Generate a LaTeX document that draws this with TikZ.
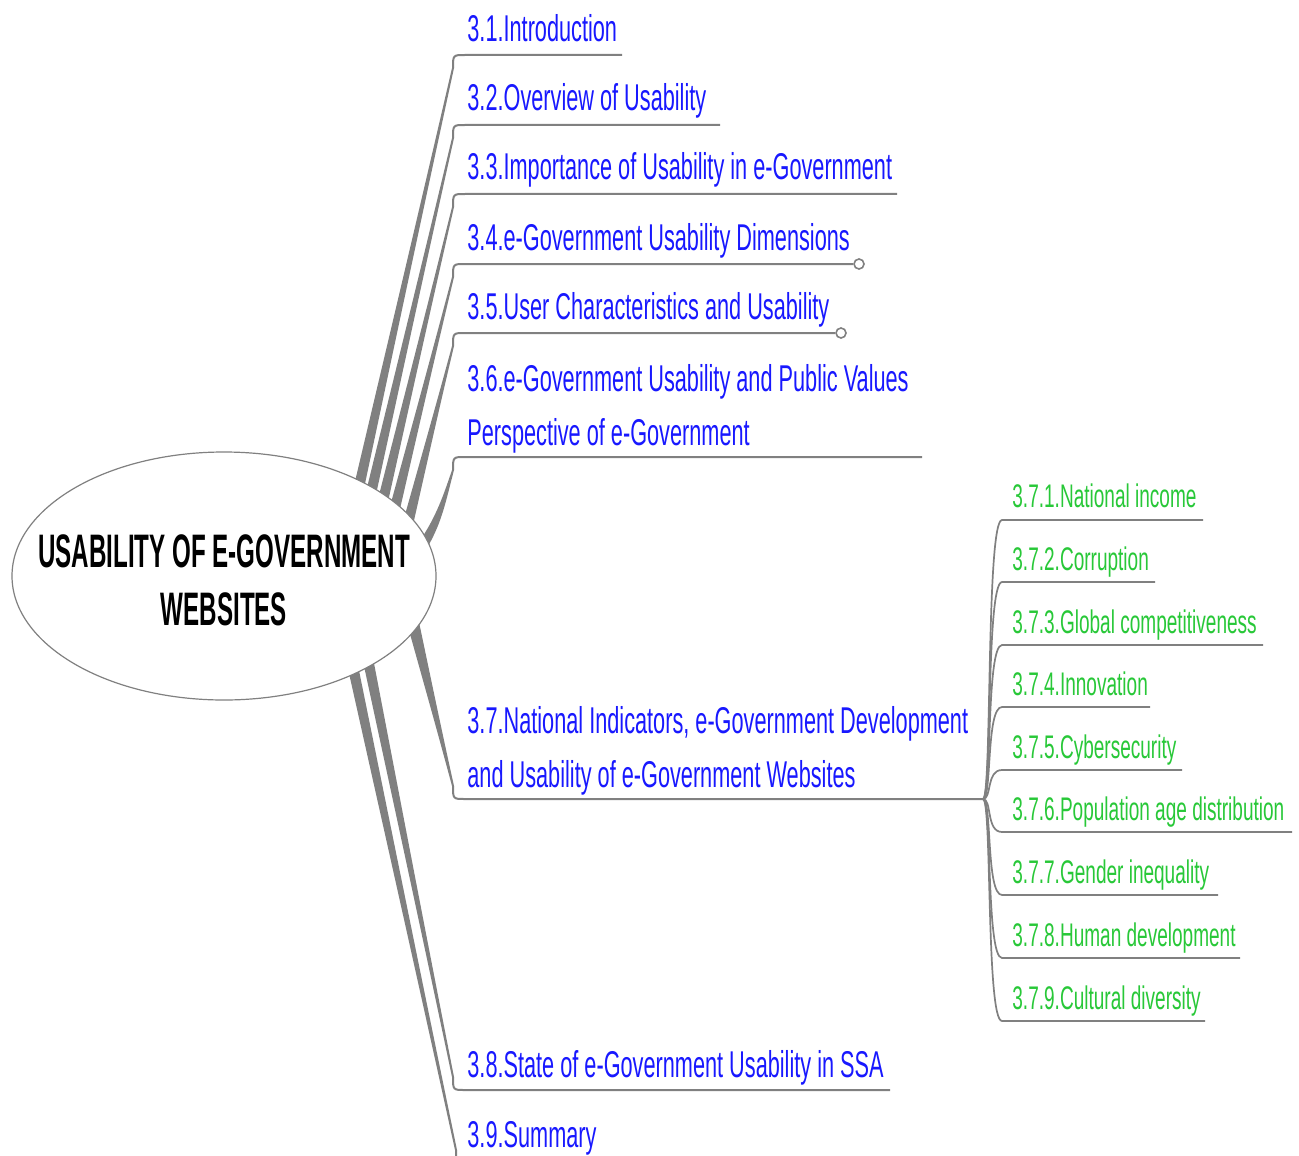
\documentclass[tikz,border=0pt]{standalone}
\usepackage{fontspec}
\setmainfont{Liberation Sans}
\newfontfamily\topicfont[FakeStretch=0.582]{Liberation Sans}
\newfontfamily\subtopicfont[FakeStretch=0.582]{Liberation Sans}
\newfontfamily\hubfont[FakeStretch=0.514]{Liberation Sans}
\usetikzlibrary{calc,shapes.geometric,backgrounds}

\definecolor{branchgray}{RGB}{128,128,128}
\definecolor{topicblue}{RGB}{24,24,255}
\definecolor{subgreen}{RGB}{40,200,56}

\tikzset{
  topic/.style={anchor=base west, inner sep=0pt, text=topicblue,
    font=\topicfont\fontsize{18.65}{22}\selectfont},
  subtopic/.style={anchor=base west, inner sep=0pt, text=subgreen,
    font=\subtopicfont\fontsize{16.35}{20}\selectfont},
  hubtitle/.style={anchor=base, inner sep=0pt,
    font=\hubfont\bfseries\fontsize{23.5}{28}\selectfont},
  topicrule/.style={draw=branchgray, line width=1pt},
  subrule/.style={draw=branchgray, line width=0.85pt},
  knob/.style={draw=branchgray, fill=white, line width=0.8pt, circle,
    inner sep=0pt, minimum size=5pt},
}

% tapering branch: #1 start, #2 end, #3 half width at start,
% #4 and #5 shifts of the two control points
\newcommand\taperstroke[5]{%
  \fill[branchgray]
    ($(#1)+(-#3,0)$)
      .. controls ($(#1)!0.33!(#2)+(#4)+(-0.7*#3,0)$)
              and ($(#1)!0.67!(#2)+(#5)+(-0.35*#3,0)$) .. ($(#2)+(-1,0)$)
    -- ($(#2)+(1,0)$)
      .. controls ($(#1)!0.67!(#2)+(#5)+(0.35*#3,0)$)
              and ($(#1)!0.33!(#2)+(#4)+(0.7*#3,0)$) .. ($(#1)+(#3,0)$)
    -- cycle;}

\begin{document}
\begin{tikzpicture}[x=0.5pt,y=-0.5pt]
\useasboundingbox (0,0) rectangle (1299,1155);

% central topic
\node[draw=branchgray, fill=white, ellipse, minimum width=212pt,
      minimum height=124pt, inner sep=0pt, line width=0.6pt] (hub) at (224,576) {};
\node[hubtitle] (hubA) at (224,567) {USABILITY OF E-GOVERNMENT};
\node[hubtitle] (hubB) at (224,625) {WEBSITES};

% bends where the branches meet their underlines
\coordinate (t1) at (453,68);   \coordinate (e1) at (465,55);   \coordinate (u1) at (622,55);
\coordinate (t2) at (453,138);  \coordinate (e2) at (465,125);  \coordinate (u2) at (720,125);
\coordinate (t3) at (453,207);  \coordinate (e3) at (465,194);  \coordinate (u3) at (897,194);
\coordinate (t4) at (453,277);  \coordinate (e4) at (465,264);
\coordinate (t5) at (453,346);  \coordinate (e5) at (465,333);
\coordinate (t6) at (453,470);  \coordinate (e6) at (465,457);  \coordinate (u6) at (922,457);
\coordinate (t7) at (453,786);  \coordinate (e7) at (465,799);  \coordinate (j)  at (983,799);
\coordinate (t8) at (453,1077); \coordinate (e8) at (465,1090); \coordinate (u8) at (890,1090);
\coordinate (t9) at (456,1150); \coordinate (e9) at (468,1163); \coordinate (u9) at (700,1163);

% branch roots, tucked just inside the ellipse
\coordinate (s1) at ($(hub.35)!-0.06!(t1)$);
\coordinate (s2) at ($(hub.31)!-0.06!(t2)$);
\coordinate (s3) at ($(hub.27)!-0.06!(t3)$);
\coordinate (s4) at ($(hub.23)!-0.06!(t4)$);
\coordinate (s5) at ($(hub.18.5)!-0.07!(t5)$);
\coordinate (s6) at ($(hub.11.6)!-0.15!(t6)$);
\coordinate (s7) at ($(hub.-16.6)!-0.12!(t7)$);
\coordinate (s8) at ($(hub.-32.6)!-0.05!(t8)$);
\coordinate (s9) at ($(hub.-37.6)!-0.05!(t9)$);

\node[knob] (k4) at (859,264) {};
\node[knob] (k5) at (841,333) {};

\begin{scope}[on background layer]
  \fill[white] (0,0) rectangle (1299,1155);
  \taperstroke{s1}{t1}{5.5}{0,0}{0,0}
  \taperstroke{s2}{t2}{5.5}{0,0}{0,0}
  \taperstroke{s3}{t3}{5.5}{0,0}{0,0}
  \taperstroke{s4}{t4}{5.5}{0,0}{0,0}
  \taperstroke{s5}{t5}{5.5}{0,0}{0,0}
  \taperstroke{s6}{t6}{6}{6,0}{1,6}
  \taperstroke{s7}{t7}{6.5}{0,0}{0,0}
  \taperstroke{s8}{t8}{5.5}{0,0}{0,0}
  \taperstroke{s9}{t9}{5.5}{0,0}{0,0}

  % rounded bends into the underlines
  \draw[topicrule] (t1) .. controls (t1 |- e1) .. (e1) -- (u1);
  \draw[topicrule] (t2) .. controls (t2 |- e2) .. (e2) -- (u2);
  \draw[topicrule] (t3) .. controls (t3 |- e3) .. (e3) -- (u3);
  \draw[topicrule] (t4) .. controls (t4 |- e4) .. (e4) -- (k4.west);
  \draw[topicrule] (t5) .. controls (t5 |- e5) .. (e5) -- (k5.west);
  \draw[topicrule] (t6) .. controls (t6 |- e6) .. (e6) -- (u6);
  \draw[topicrule] (t7) .. controls (t7 |- e7) .. (e7) -- (j);
  \draw[topicrule] (t8) .. controls (t8 |- e8) .. (e8) -- (u8);
  \draw[topicrule] (t9) .. controls (t9 |- e9) .. (e9) -- (u9);

  % sub-branches fanning out of 3.7
  \foreach \yy/\xe [count=\k] in {520/1203,582/1155,645/1263,707/1150,770/1182,
                                  832/1292,895/1218,958/1240,1021/1205}{
    \coordinate (se\k) at (1002,\yy);
    \coordinate (ue\k) at (\xe,\yy);
    \draw[subrule] (j) .. controls ($(j)+(9,0)$) and ($(se\k)+(-16,0)$) .. (se\k) -- (ue\k);
  }
\end{scope}

% chapter sections
\node[topic] (n31) at (467,42)  {3.1.Introduction};
\node[topic] (n32) at (467,111) {3.2.Overview of Usability};
\node[topic] (n33) at (467,180) {3.3.Importance of Usability in e-Government};
\node[topic] (n34) at (467,250) {3.4.e-Government Usability Dimensions};
\node[topic] (n35) at (467,319) {3.5.User Characteristics and Usability};
\node[topic] (n36a) at (467,391) {3.6.e-Government Usability and Public Values};
\node[topic] (n36b) at (467,445) {Perspective of e-Government};
\node[topic] (n37a) at (467,733) {3.7.National Indicators, e-Government Development};
\node[topic] (n37b) at (467,787) {and Usability of e-Government Websites};
\node[topic] (n38) at (467,1077) {3.8.State of e-Government Usability in SSA};
\node[topic] (n39) at (467,1147) {3.9.Summary};

% national indicators
\node[subtopic] (n371) at (1012,507)  {3.7.1.National income};
\node[subtopic] (n372) at (1012,570)  {3.7.2.Corruption};
\node[subtopic] (n373) at (1012,633)  {3.7.3.Global competitiveness};
\node[subtopic] (n374) at (1012,695)  {3.7.4.Innovation};
\node[subtopic] (n375) at (1012,758)  {3.7.5.Cybersecurity};
\node[subtopic] (n376) at (1012,820)  {3.7.6.Population age distribution};
\node[subtopic] (n377) at (1012,883)  {3.7.7.Gender inequality};
\node[subtopic] (n378) at (1012,946)  {3.7.8.Human development};
\node[subtopic] (n379) at (1012,1009) {3.7.9.Cultural diversity};
\end{tikzpicture}
\end{document}
